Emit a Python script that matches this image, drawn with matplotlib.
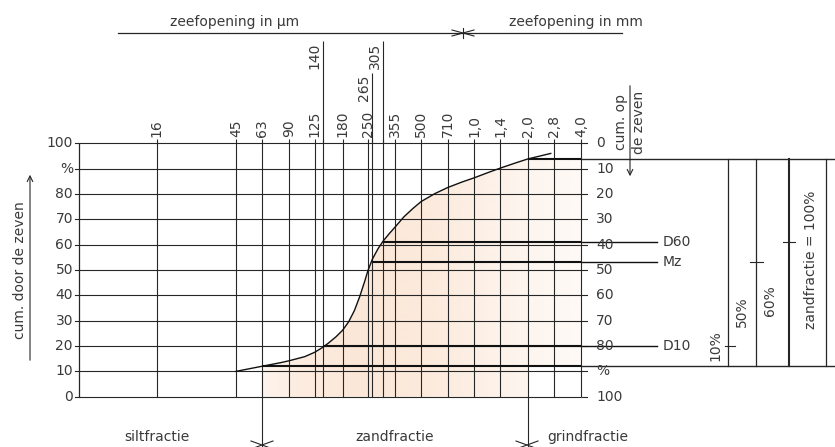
import numpy as np
import matplotlib.pyplot as plt
from matplotlib import transforms
from matplotlib.patches import Polygon

# sieve openings (µm) and the labels printed above the grid
sizes = [16, 45, 63, 90, 125, 140, 180, 250, 265, 305, 355, 500, 710,
         1000, 1400, 2000, 2800, 4000]
size_labels = ['16', '45', '63', '90', '125', '140', '180', '250', '265',
               '305', '355', '500', '710', '1,0', '1,4', '2,0', '2,8', '4,0']
raised = {140: 139.6, 265: 127.0, 305: 139.6}   # labels lifted above the others

# grading curve, cumulative % passing
curve_um = [45, 63, 80, 90, 110, 125, 140, 150, 165, 180, 195, 210, 225,
            240, 250, 265, 285, 305, 330, 355, 400, 450, 500, 600, 710,
            850, 1000, 1200, 1400, 1700, 2000, 2700]
curve_pct = [10, 12, 13.4, 14.2, 15.8, 17.5, 19.6, 21.2, 23.6, 26.2, 29.6,
             34, 39.5, 45.5, 49.6, 54.2, 58.3, 61.4, 64.3, 66.8, 71,
             74.3, 77, 80.2, 82.6, 84.7, 86.4, 88.5, 90.2, 92.2, 93.8, 96]

levels = [0, 10, 20, 30, 40, 50, 60, 70, 80, 90, 100]
left_labels = ['0', '10', '20', '30', '40', '50', '60', '70', '80', '%', '100']
right_labels = ['100', '%', '80', '70', '60', '50', '40', '30', '20', '10', '0']

# sand fraction limits and characteristic diameters
sand_lo_um, sand_lo = 63, 12.2
sand_hi_um, sand_hi = 2000, 93.8
d_names = ['D10', 'Mz', 'D60']
d_um = [140, 265, 305]
d_pct = [20.2, 53.2, 61.2]
d_share = ['10%', '50%', '60%']

W, H = 835, 447
ink = '#262626'
txt = '#3a3a3a'
plt.rcParams['font.family'] = 'DejaVu Sans'
plt.rcParams['font.size'] = 10

fig = plt.figure(figsize=(W / 100, H / 100), dpi=100)
fig.patch.set_facecolor('white')

bg = fig.add_axes([0, 0, 1, 1], zorder=0)
bg.set_xlim(0, W)
bg.set_ylim(H, 0)
bg.axis('off')

ax = fig.add_axes([0, 0, 1, 1], zorder=1)
ax.set_xscale('log')
ax.set_xlim(10 ** 0.3199, 10 ** 5.0375)
ax.set_ylim(-19.85, 156.55)
ax.axis('off')

ov = fig.add_axes([0, 0, 1, 1], zorder=2)
ov.set_xlim(0, W)
ov.set_ylim(H, 0)
ov.axis('off')

bt = transforms.blended_transform_factory(ov.transData, ax.transData)
x_left = 10 ** 0.766

# shaded sand area (gradient clipped to the area under the curve)
cu = np.array(curve_um)
cp = np.array(curve_pct)
m = (cu >= sand_lo_um) & (cu <= sand_hi_um)
pts = [(sand_lo_um, 0)] + list(zip(cu[m], cp[m])) + [
    (4000, sand_hi), (4000, sand_lo), (sand_hi_um, sand_lo), (sand_hi_um, 0)]
poly = Polygon(pts, closed=True, fill=False, lw=0, transform=ax.transData)
ax.add_patch(poly)
xs = np.arange(W) + 0.5
alpha = np.interp(xs, [262, 300, 360, 430, 500, 582],
                  [0.16, 0.3, 0.38, 0.33, 0.2, 0.08])
img = np.zeros((1, W, 4))
img[..., 0] = 246 / 255
img[..., 1] = 192 / 255
img[..., 2] = 150 / 255
img[..., 3] = alpha
im = bg.imshow(img, extent=[0, W, H, 0], aspect='auto', interpolation='bilinear')
im.set_clip_path(poly)

# grid
ax.vlines(sizes, 0, 101.5, color=ink, lw=0.8)
ax.vlines(x_left, 0, 100, color=ink, lw=0.9)
ax.hlines(levels, x_left, 4000, color=ink, lw=0.8)
for s, top in raised.items():
    ax.vlines(s, 100, top + 0.8, color=ink, lw=0.8)
ax.vlines([sand_lo_um, sand_hi_um], -19.8, 0, color=ink, lw=0.8)

for y in levels:
    ax.plot([75, 79], [y, y], color=ink, lw=0.8, transform=bt)
    ax.plot([582, 587], [y, y], color=ink, lw=0.8, transform=bt)

for y, lab in zip(levels, left_labels):
    ax.text(73, y, lab, ha='right', va='center', color=txt, transform=bt)
for y, lab in zip(levels, right_labels):
    ax.text(596, y, lab, ha='left', va='center', color=txt, transform=bt)

for s, lab in zip(sizes, size_labels):
    if s in raised:
        ax.annotate(lab, xy=(s, raised[s]), xytext=(-1, 0),
                    textcoords='offset points', rotation=90, ha='right',
                    va='top', color=txt)
    else:
        ax.text(s, 102.5, lab, rotation=90, ha='center', va='bottom', color=txt)

# grading curve
ax.plot(curve_um, curve_pct, color='#111111', lw=1.0)

# characteristic lines
for name, d, p in zip(d_names, d_um, d_pct):
    ax.hlines(p, d, 4000, color='#111111', lw=1.5)
    ax.plot([582, 657], [p, p], color='#111111', lw=1.0, transform=bt)
    ax.text(663, p, name, ha='left', va='center', color=txt, transform=bt)

ax.hlines(sand_lo, sand_lo_um, 4000, color='#111111', lw=1.5)
ax.hlines(sand_hi, sand_hi_um, 4000, color='#111111', lw=1.5)
ax.plot([582, W], [sand_lo, sand_lo], color=ink, lw=1.0, transform=bt)
ax.plot([582, W], [sand_hi, sand_hi], color=ink, lw=1.0, transform=bt)

# brackets on the right
for x, lw in zip([728, 756, 789, 826], [0.9, 0.9, 1.5, 0.9]):
    ax.plot([x, x], [sand_lo, sand_hi], color=ink, lw=lw, transform=bt)
for x0, x1, p in zip([725, 750, 783], [735, 763, 795], d_pct):
    ax.plot([x0, x1], [p, p], color=ink, lw=0.8, transform=bt)
for x, y, lab in zip([715, 742, 770], [20.0, 33.4, 38.1], d_share):
    ax.text(x, y, lab, rotation=90, ha='center', va='center', color=txt,
            transform=bt)
ax.text(811, 54, 'zandfractie = 100%', rotation=90,
        ha='center', va='center', color=txt, transform=bt)

# header
ov.text(235, 22, 'zeefopening in µm', ha='center', va='center', color=txt)
ov.text(576, 22, 'zeefopening in mm', ha='center', va='center', color=txt)
ov.plot([118, 622], [33, 33], color=ink, lw=0.9)
ov.plot([452, 463, 452], [30, 33, 36], color=ink, lw=0.8)
ov.plot([474, 463, 474], [30, 33, 36], color=ink, lw=0.8)
ov.plot([463, 463], [28, 38], color=ink, lw=0.8)

# axis titles
ov.text(20, 270, 'cum. door de zeven', rotation=90, ha='center', va='center',
        color=txt)
ov.annotate('', xy=(30, 172), xytext=(30, 363),
            arrowprops=dict(arrowstyle='->', lw=0.8, color=ink))
ov.text(621, 122, 'cum. op', rotation=90, ha='center', va='center', color=txt)
ov.text(639, 122, 'de zeven', rotation=90, ha='center', va='center', color=txt)
ov.annotate('', xy=(630, 179), xytext=(630, 83),
            arrowprops=dict(arrowstyle='->', lw=0.8, color=ink))

# fraction names along the bottom
ov.text(157, 437, 'siltfractie', ha='center', va='center', color=txt)
ov.text(395, 437, 'zandfractie', ha='center', va='center', color=txt)
ov.text(547, 437, 'grindfractie', ha='left', va='center', color=txt)
for x in [262, 527]:
    ov.plot([x - 11, x, x - 11], [441, 445, 449], color=ink, lw=0.8)
    ov.plot([x + 11, x, x + 11], [441, 445, 449], color=ink, lw=0.8)

fig.savefig('out.png', dpi=100, facecolor='white')
